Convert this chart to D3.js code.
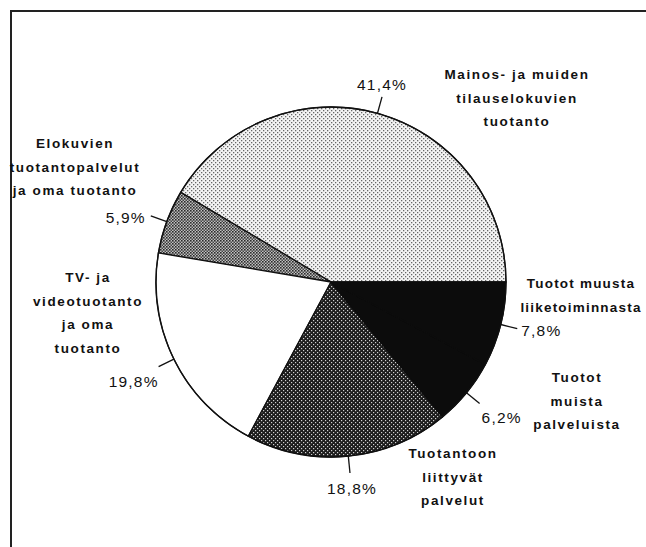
<!DOCTYPE html>
<html>
<head>
<meta charset="utf-8">
<script src="https://cdn.jsdelivr.net/npm/d3@7"></script>
<style>
  body { margin: 0; background: #fff; }
  svg { display: block; }
  .name { font-family: "Liberation Sans", Arial, sans-serif; font-weight: bold; font-size: 13.5px; letter-spacing: 1.6px; fill: #111; }
  .pct { font-family: "Liberation Sans", Arial, sans-serif; font-size: 15.5px; letter-spacing: 1.2px; fill: #111; }
</style>
</head>
<body>
<script>
// slices, counter-clockwise from 3 o'clock
const categories = [
  "Mainos- ja muiden tilauselokuvien tuotanto",
  "Elokuvien tuotantopalvelut ja oma tuotanto",
  "TV- ja videotuotanto ja oma tuotanto",
  "Tuotantoon liittyvät palvelut",
  "Tuotot muista palveluista",
  "Tuotot muusta liiketoiminnasta"
];
const values = [41.4, 5.9, 19.8, 18.8, 6.2, 7.8];
const pctLabels = ["41,4%", "5,9%", "19,8%", "18,8%", "6,2%", "7,8%"];
const nameLines = [
  ["Mainos- ja muiden", "tilauselokuvien", "tuotanto"],
  ["Elokuvien", "tuotantopalvelut", "ja oma tuotanto"],
  ["TV- ja", "videotuotanto", "ja oma", "tuotanto"],
  ["Tuotantoon", "liittyvät", "palvelut"],
  ["Tuotot", "muista", "palveluista"],
  ["Tuotot muusta", "liiketoiminnasta"]
];

// layout
const width = 646, height = 547;
const cx = 331, cy = 282, r = 175;
const fills = ["url(#pLight)", "url(#pMid)", "#fff", "url(#pDark)", "#0c0c0c", "#0c0c0c"];
const strokes = ["#111", "#111", "#111", "#111", "#0c0c0c", "#0c0c0c"];
const namePos = [[517, 74], [75, 143], [88, 277], [453, 453], [577, 377], [581, 283]];
const nameSpacing = [1.6, 1.6, 1.6, 1.6, 1.6, 1.2];
const pctOff = [[0, -12, "middle"], [-5, 2, "end"], [0, 15, "end"], [2, 16, "middle"], [2, 14, "start"], [4, 2, "start"]];

const svg = d3.select("body").append("svg")
  .attr("width", width)
  .attr("height", height);

const defs = svg.append("defs");

const light = defs.append("pattern").attr("id", "pLight")
  .attr("width", 4).attr("height", 4).attr("patternUnits", "userSpaceOnUse");
light.append("rect").attr("width", 4).attr("height", 4).attr("fill", "#f4f4f4");
light.append("rect").attr("x", 0).attr("y", 0).attr("width", 1.3).attr("height", 1.3).attr("fill", "#666");
light.append("rect").attr("x", 2).attr("y", 2).attr("width", 1.3).attr("height", 1.3).attr("fill", "#666");

const mid = defs.append("pattern").attr("id", "pMid")
  .attr("width", 3).attr("height", 3).attr("patternUnits", "userSpaceOnUse");
mid.append("rect").attr("width", 3).attr("height", 3).attr("fill", "#c0c0c0");
mid.append("rect").attr("x", 0).attr("y", 0).attr("width", 1.6).attr("height", 1.6).attr("fill", "#2a2a2a");
mid.append("rect").attr("x", 1.5).attr("y", 1.5).attr("width", 1.5).attr("height", 1.5).attr("fill", "#444");

const dark = defs.append("pattern").attr("id", "pDark")
  .attr("width", 4).attr("height", 4).attr("patternUnits", "userSpaceOnUse");
dark.append("rect").attr("width", 4).attr("height", 4).attr("fill", "#1c1c1c");
dark.append("rect").attr("x", 0).attr("y", 0).attr("width", 1.2).attr("height", 1.2).attr("fill", "#d0d0d0");
dark.append("rect").attr("x", 2).attr("y", 2).attr("width", 1.2).attr("height", 1.2).attr("fill", "#d0d0d0");

// frame
svg.append("path")
  .attr("d", `M11,${height} L11,11 L${width},11`)
  .attr("fill", "none")
  .attr("stroke", "#222")
  .attr("stroke-width", 2);

const pie = d3.pie()
  .sort(null)
  .startAngle(Math.PI / 2)
  .endAngle(Math.PI / 2 - 2 * Math.PI)
  .value(d => d);

const arcs = pie(values);
const arc = d3.arc().innerRadius(0).outerRadius(r);

const g = svg.append("g").attr("transform", `translate(${cx},${cy})`);

g.selectAll("path.slice")
  .data(arcs)
  .join("path")
  .attr("class", "slice")
  .attr("d", arc)
  .attr("fill", (d, i) => fills[i])
  .attr("stroke", (d, i) => strokes[i])
  .attr("stroke-width", 1.3)
  .attr("stroke-linejoin", "round");

// outer rim
g.append("circle")
  .attr("r", r)
  .attr("fill", "none")
  .attr("stroke", "#111")
  .attr("stroke-width", 1.3);

const pt = (a, rr) => [rr * Math.sin(a), -rr * Math.cos(a)];

// leader lines
g.selectAll("line.leader")
  .data(arcs)
  .join("line")
  .attr("class", "leader")
  .each(function(d) {
    const a = (d.startAngle + d.endAngle) / 2;
    const p0 = pt(a, r), p1 = pt(a, r + 17);
    d3.select(this)
      .attr("x1", p0[0]).attr("y1", p0[1])
      .attr("x2", p1[0]).attr("y2", p1[1]);
  })
  .attr("stroke", "#111")
  .attr("stroke-width", 1.3);

// percentage labels
g.selectAll("text.pct")
  .data(arcs)
  .join("text")
  .attr("class", "pct")
  .each(function(d, i) {
    const a = (d.startAngle + d.endAngle) / 2;
    const p = pt(a, r + 17);
    d3.select(this)
      .attr("x", p[0] + pctOff[i][0])
      .attr("y", p[1] + pctOff[i][1])
      .attr("dy", "0.35em")
      .attr("text-anchor", pctOff[i][2]);
  })
  .text((d, i) => pctLabels[i]);

// category names
const names = svg.append("g");
names.selectAll("text")
  .data(categories)
  .join("text")
  .attr("class", "name")
  .attr("text-anchor", "middle")
  .style("letter-spacing", (d, i) => nameSpacing[i] + "px")
  .attr("transform", (d, i) => `translate(${namePos[i][0]},${namePos[i][1]})`)
  .selectAll("tspan")
  .data((d, i) => nameLines[i])
  .join("tspan")
  .attr("x", 0)
  .attr("y", (d, j) => j * 23.8)
  .attr("dy", "0.35em")
  .text(d => d);
</script>
</body>
</html>
